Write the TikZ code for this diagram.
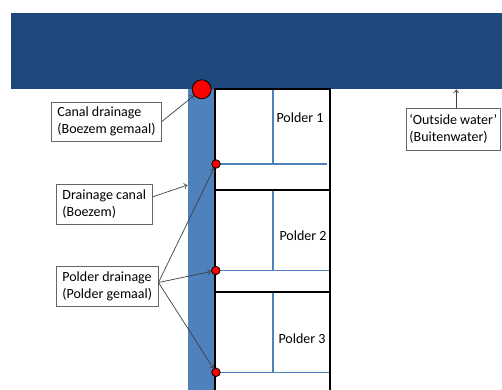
\documentclass[tikz,border=0pt]{standalone}
\usepackage{fontspec}
\setmainfont{Carlito}
\usetikzlibrary{arrows.meta}
\definecolor{seablue}{HTML}{1F497D}
\definecolor{canalblue}{HTML}{4F81BD}
\definecolor{pumpred}{HTML}{FF0000}
\begin{document}
\begin{tikzpicture}[x=1pt,y=-1pt,
  labelbox/.style={draw=black!60, line width=0.8pt, fill=white, align=left,
    inner xsep=6pt, inner ysep=0pt, anchor=west,
    font=\fontsize{14}{16.7}\selectfont},
  pointer/.style={draw=black!75, line width=0.7pt, -{To[length=3.5pt,width=6pt]}},
  polderline/.style={draw=black, line width=1.1pt},
  ditch/.style={draw=canalblue, line width=1.4pt},
  pump/.style={circle, fill=pumpred, draw=black, line width=0.8pt, inner sep=0pt},
  poldername/.style={font=\fontsize{14}{16.7}\selectfont, inner sep=0pt}]
\useasboundingbox (0,0) rectangle (502,389);
\clip (0,0) rectangle (502,389);

% outside water and the drainage canal (boezem)
\node[fill=seablue, inner sep=0pt, minimum width=491pt, minimum height=76pt,
  anchor=north west] (sea) at (11,13) {};
\fill[canalblue] (187.5,89) rectangle (215,395);

% ditches inside the polders
\draw[ditch] (273,89) -- (273,164);
\draw[ditch] (216,164) -- (327,164);
\draw[ditch] (273,190) -- (273,270.5);
\draw[ditch] (216,270.5) -- (331,270.5);
\draw[ditch] (273,292) -- (273,372.3);
\draw[ditch] (216,372.3) -- (331,372.3);

% polder boundaries
\draw[polderline] (215,89) rectangle (330,190);
\draw[polderline] (215,190) rectangle (330,292);
\draw[polderline] (215,292) rectangle (330,400);

\node[poldername] (pl1) at (300,118) {Polder 1};
\node[poldername] (pl2) at (303,236) {Polder 2};
\node[poldername] (pl3) at (302,339) {Polder 3};

% pumping stations
\node[pump, minimum size=19pt] (d0) at (201.7,89.3) {};
\node[pump, minimum size=8.5pt] (d1) at (216,164) {};
\node[pump, minimum size=8.5pt] (d2) at (215.8,270.5) {};
\node[pump, minimum size=8.5pt] (d3) at (216,372.3) {};

\coordinate (canaledge) at (187.5,185);

% labels
\node[labelbox, minimum height=39pt] (cd) at (51,121.5)
  {Canal drainage\\(Boezem gemaal)};
\node[labelbox, minimum height=40pt] (dc) at (56,204)
  {Drainage canal\\(Boezem)};
\node[labelbox, minimum height=40pt] (pd) at (56,286)
  {Polder drainage\\(Polder gemaal)};
\node[labelbox, minimum height=42pt, inner xsep=3pt] (ow) at (406,129)
  {‘Outside water’\\(Buitenwater)};

% pointers
\draw[pointer] (cd.east) -- (d0);
\draw[pointer] ([yshift=7pt]dc.east) -- (canaledge);
\coordinate (pdstart) at ([yshift=3.5pt]pd.east);
\draw[pointer] (pdstart) -- (d1);
\draw[pointer] (pdstart) -- (d2);
\draw[pointer] (pdstart) -- (d3);
\draw[pointer] ([xshift=3pt]ow.north) -- ([xshift=3pt]ow.north |- sea.south);
\end{tikzpicture}
\end{document}
